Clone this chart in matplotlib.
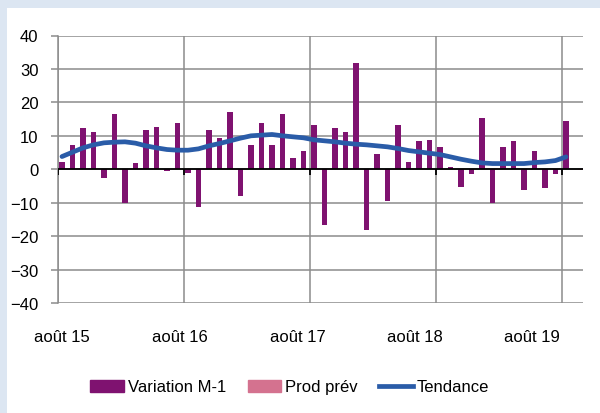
import matplotlib
matplotlib.use("Agg")
import matplotlib.pyplot as plt
import matplotlib.patches as mpatches
import matplotlib.lines as mlines
import numpy as np

plt.rcParams['font.family'] = ['Liberation Sans', 'DejaVu Sans']

# Monthly change (M-1), août 2015 -> août 2019
variation = [2.3, 7.2, 12.2, 11.0, -2.5, 16.5, -10.1, 1.8, 11.6, 12.7, -0.5, 13.7,
             -1.1, -11.2, 11.6, 9.4, 17.0, -7.9, 7.2, 13.7, 7.2, 16.5, 3.4, 5.6,
             13.2, -16.7, 12.2, 11.0, 31.8, -18.3, 4.5, -9.6, 13.2, 2.3, 8.3, 8.8,
             6.7, 0.7, -5.2, -1.4, 15.3, -10.2, 6.7, 8.3, -6.3, 5.6, -5.7, -1.4,
             14.3]
tendance = [3.8, 5.1, 6.4, 7.3, 7.9, 8.1, 8.2, 7.8, 7.0, 6.4, 5.9, 5.7,
            5.7, 6.1, 7.0, 7.7, 8.5, 9.3, 10.0, 10.2, 10.4, 10.0, 9.7, 9.4,
            8.8, 8.5, 8.2, 7.8, 7.5, 7.3, 7.0, 6.7, 6.2, 5.6, 5.2, 4.8,
            4.4, 3.7, 3.0, 2.4, 1.9, 1.7, 1.7, 1.7, 1.7, 2.0, 2.2, 2.6,
            3.7]
# forecast: one month after the last observed point
prod_prev_month = [49]
prod_prev = [-0.3]

year_labels = ['août 15', 'août 16', 'août 17', 'août 18', 'août 19']
year_months = [0, 12, 24, 36, 48]
label_pos = [0.38, 11.6, 22.8, 34.0, 45.1]

purple = '#7f1270'
pink = '#d4728f'
blue = '#2a5ca8'
grey = '#8c8c8c'
fs = 12

fig = plt.figure(figsize=(6, 4.14), dpi=100)
fig.patch.set_facecolor('#dce6f2')
# white chart panel
panel = mpatches.Rectangle((7 / 600, 0), 1, 1 - 9 / 414, transform=fig.transFigure,
                           facecolor='white', edgecolor='none', zorder=-10)
fig.patches.append(panel)

ax = fig.add_axes([58 / 600, 1 - 304 / 414, 525 / 600, 267.5 / 414])
ax.set_facecolor('none')

months = np.arange(len(variation))
ax.bar(months + 0.38, variation, width=0.48, color=purple, zorder=2)
ax.bar(np.array(prod_prev_month) + 0.76, prod_prev, width=0.48, color=pink, zorder=2)
ax.plot(months + 0.38, tendance, color=blue, lw=3.4, solid_capstyle='round', zorder=3)

ax.set_xlim(0, 50)
ax.set_ylim(-40, 40)
ax.set_yticks(range(-40, 41, 10))
ax.yaxis.grid(True, color=grey, lw=1.1, zorder=1)
for m in year_months:
    ax.axvline(m, color=grey, lw=1.1, zorder=1)
ax.axhline(0, color='black', lw=1.3, zorder=4)
ax.vlines(year_months, -1.6, 0, color='black', lw=1.3, zorder=4)

ax.set_xticks(label_pos)
ax.set_xticklabels(year_labels)
ax.tick_params(axis='x', length=0, pad=19, labelsize=fs)
ax.tick_params(axis='y', length=5, color=grey, width=1.1, pad=9, labelsize=fs)
for s in ['top', 'right', 'bottom']:
    ax.spines[s].set_visible(False)
ax.spines['left'].set_color(grey)
ax.spines['left'].set_linewidth(1.1)

handles = [mpatches.Patch(color=purple, label='Variation M-1'),
           mpatches.Patch(color=pink, label='Prod prév'),
           mlines.Line2D([], [], color=blue, lw=3.4, label='Tendance')]
fig.legend(handles=handles, loc='center', bbox_to_anchor=(0.483, 1 - 388 / 414), ncol=3,
           frameon=False, fontsize=fs, handlelength=2.0, handleheight=0.7,
           handletextpad=0.25, columnspacing=1.3)

fig.savefig('out.png', dpi=100)
